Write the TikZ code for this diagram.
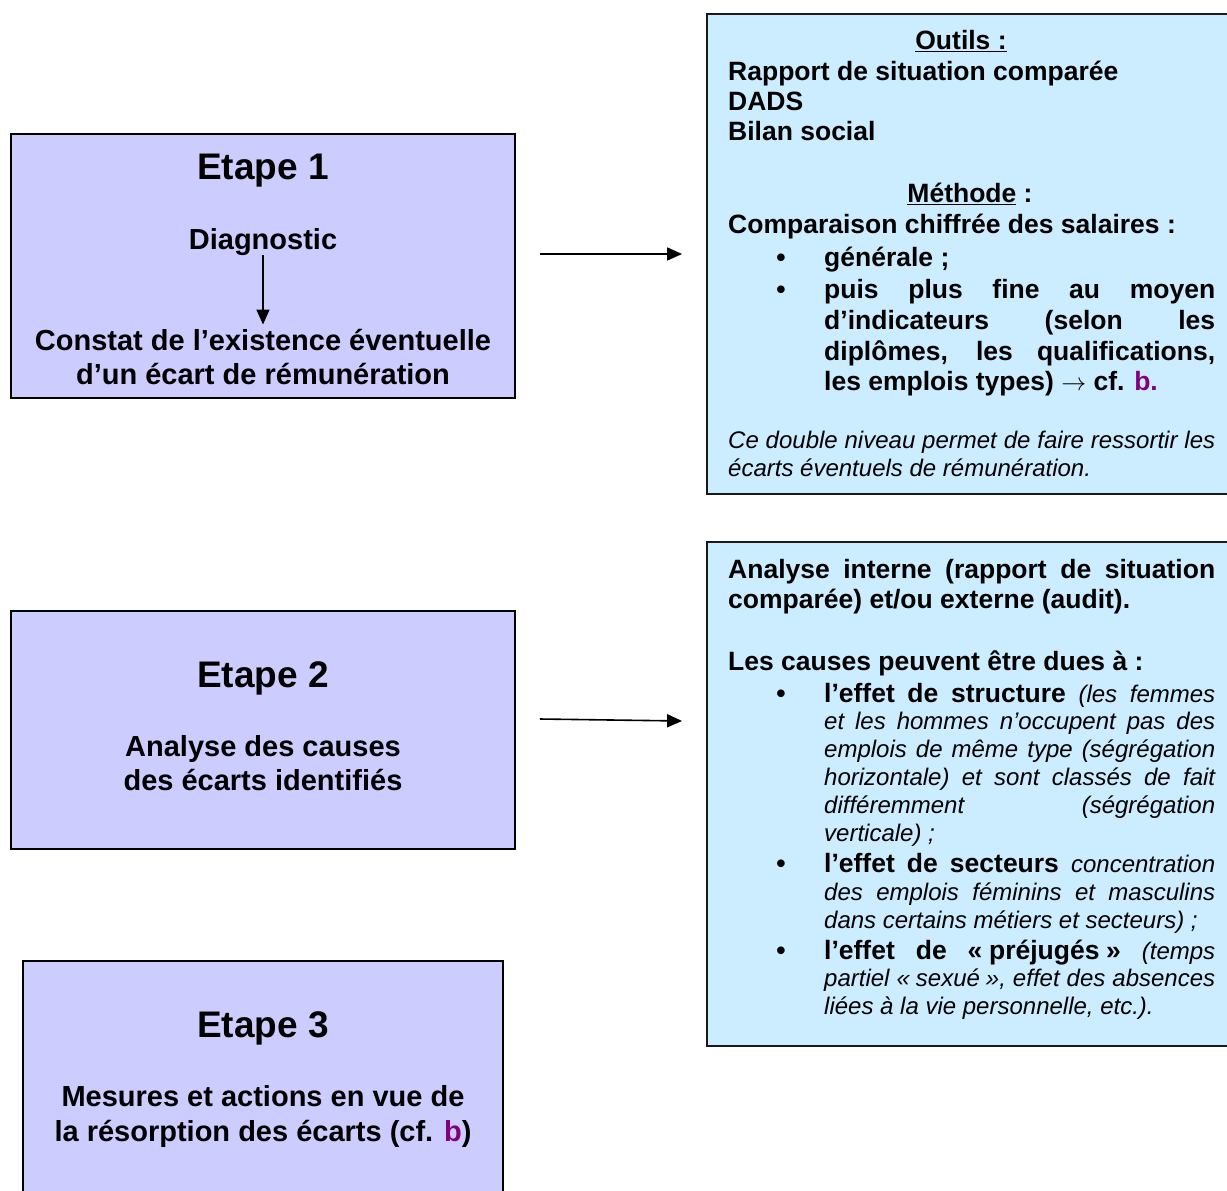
\documentclass[tikz,border=0pt]{standalone}
\usepackage{fontspec}
\setmainfont{Liberation Sans}
\usetikzlibrary{arrows.meta}
\definecolor{lav}{HTML}{CCCCFF}
\definecolor{lblue}{HTML}{CCECFF}
\definecolor{purp}{HTML}{800080}
\newcommand\fE{\fontsize{37}{42}\selectfont\bfseries}
\newcommand\fA{\fontsize{29}{33}\selectfont\bfseries}
\newcommand\fB{\fontsize{26.5}{30}\selectfont\bfseries}
\newcommand\fI{\fontsize{24}{28}\selectfont\itshape\mdseries}
\newcommand\jw[2]{\makebox[#1pt][s]{#2}}
\newcommand\gsp{\kern0.25em}
\tikzset{
  stepbox/.style={draw=black, line width=1.8pt, fill=lav, inner sep=0, rectangle},
  infobox/.style={draw=black!90, line width=1.8pt, fill=lblue, inner sep=0, rectangle},
  txt/.style={inner sep=0, anchor=base west},
  txtc/.style={inner sep=0, anchor=base},
  arr/.style={line width=1.6pt, -{Triangle[length=15pt,width=13pt]}}
}
\begin{document}
\begin{tikzpicture}[x=1pt,y=-1pt]
\useasboundingbox (0,0) rectangle (1227,1191);
\clip (0,0) rectangle (1227,1191);
\fill[white] (0,0) rectangle (1227,1191);

% left boxes
\node[stepbox, minimum width=504pt, minimum height=264pt] (box1) at (263,266) {};
\node[stepbox, minimum width=504pt, minimum height=238pt] (box2) at (263,730) {};
\node[stepbox, minimum width=480pt, minimum height=280pt] (box3) at (263,1101) {};

% right boxes
\node[infobox, minimum width=540pt, minimum height=480pt] (rb1) at (977,254) {};
\node[infobox, minimum width=540pt, minimum height=504pt] (rb2) at (977,794) {};

% box 1 text
\node[txtc] (e1) at (263,179) {\fE Etape 1};
\node[txtc] (diag) at (263,249) {\fA Diagnostic};
\node[txtc] (constat) at (263,350) {\fA Constat de l’existence éventuelle};
\node[txtc] (ecart) at (263,384) {\fA d’un écart de rémunération};
\draw[arr] (diag.south) -- ([yshift=4pt]diag.south |- constat.north);

% box 2 text
\node[txtc] (e2) at (263,687) {\fE Etape 2};
\node[txtc] (an1) at (263,756) {\fA Analyse des causes};
\node[txtc] (an2) at (263,790) {\fA des écarts identifiés};

% box 3 text
\node[txtc] (e3) at (263,1037) {\fE Etape 3};
\node[txtc] (me1) at (263,1106) {\fA Mesures et actions en vue de};
\node[txtc] (me2) at (263,1141) {\fA la résorption des écarts (cf. {\color{purp}b})};

% arrows between columns
\draw[arr, shorten <=24pt, shorten >=24pt] (box1.east |- rb1.west) -- (rb1.west);
\draw[arr] ([shift={(24,-11)}]box2.east) -- ([shift={(-24,-73)}]rb2.west);

% right box 1 text
\node[txtc] (outils) at (961,49.5) {\fB \underline{Outils :}};
\node[txt] (r1) at (728,80.5) {\fB Rapport de situation comparée};
\node[txt] (r2) at (728,110.5) {\fB DADS};
\node[txt] (r3) at (728,140.5) {\fB Bilan social};
\node[txtc] (meth) at (970,202.5) {\fB \underline{Méthode} :};
\node[txt] (r4) at (728,233.5) {\fB Comparaison chiffrée des salaires :};
\node[txtc] (bu1) at (781,266.5) {\fB •};
\node[txt] (r5) at (824,266.5) {\fB générale ;};
\node[txtc] (bu2) at (781,298.5) {\fB •};
\node[txt] (r6) at (824,298.5) {\fB \jw{391}{puis plus fine au moyen}};
\node[txt] (r7) at (824,329.5) {\fB \jw{391}{d’indicateurs (selon les}};
\node[txt] (r8) at (824,360.5) {\fB \jw{391}{diplômes, les qualifications,}};
\node[txt] (r9) at (824,390.5) {\fB les emplois types) $\rightarrow$ cf. {\color{purp}b.}};
\node[txt] (r10) at (728,448.6) {\fI \jw{487}{Ce double niveau permet de faire ressortir les}};
\node[txt] (r11) at (728,476.6) {\fI écarts éventuels de rémunération.};

% right box 2 text
\node[txt] (s1) at (728,578.5) {\fB \jw{487}{Analyse interne (rapport de situation}};
\node[txt] (s2) at (728,608.5) {\fB comparée) et/ou externe (audit).};
\node[txt] (s3) at (728,670.5) {\fB Les causes peuvent être dues à :};
\node[txtc] (bu3) at (781,702.5) {\fB •};
\node[txt] (s4) at (824,702.5) {\fB \jw{391}{l’effet de structure {\fI (les} {\fI femmes}}};
\node[txt] (s5) at (824,729.6) {\fI \jw{391}{et les hommes n’occupent pas des}};
\node[txt] (s6) at (824,757.6) {\fI \jw{391}{emplois de même type (ségrégation}};
\node[txt] (s7) at (824,785.6) {\fI \jw{391}{horizontale) et sont classés de fait}};
\node[txt] (s8) at (824,813.6) {\fI \jw{391}{différemment (ségrégation}};
\node[txt] (s9) at (824,841.6) {\fI verticale) ;};
\node[txtc] (bu4) at (781,872.5) {\fB •};
\node[txt] (s10) at (824,872.5) {\fB \jw{391}{l’effet de secteurs {\fI concentration}}};
\node[txt] (s11) at (824,900.6) {\fI \jw{391}{des emplois féminins et masculins}};
\node[txt] (s12) at (824,928.6) {\fI dans certains métiers et secteurs) ;};
\node[txtc] (bu5) at (781,959.5) {\fB •};
\node[txt] (s13) at (824,959.5) {\fB \jw{391}{l’effet de \hbox{«\gsp préjugés\gsp»} {\fI (temps}}};
\node[txt] (s14) at (824,986.6) {\fI \jw{391}{partiel \hbox{«\gsp sexué\gsp»,} effet des absences}};
\node[txt] (s15) at (824,1014.6) {\fI liées à la vie personnelle, etc.).};
\end{tikzpicture}
\end{document}
